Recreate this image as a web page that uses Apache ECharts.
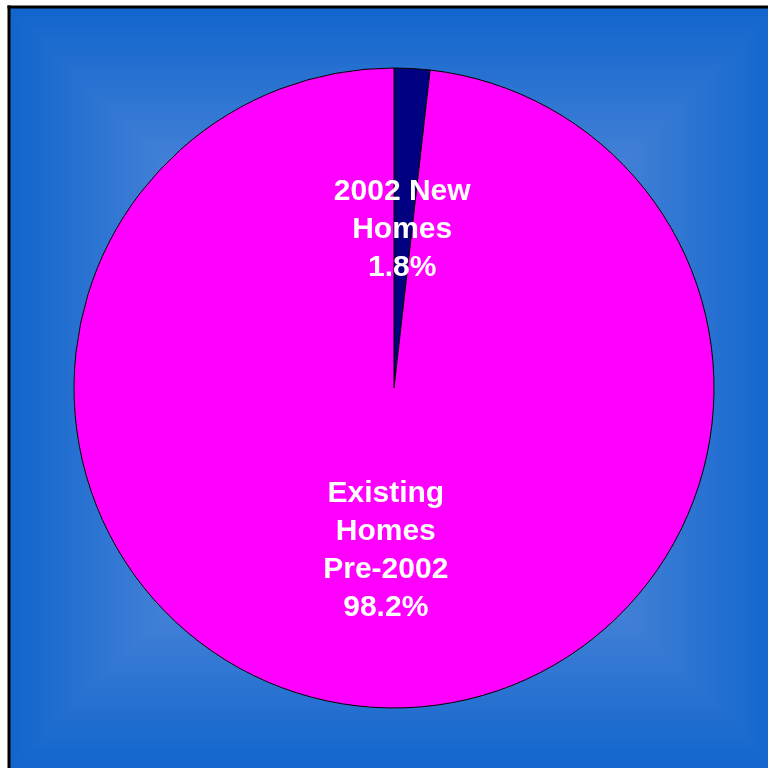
<!DOCTYPE html>
<html>
<head>
<meta charset="utf-8">
<script src="https://cdn.jsdelivr.net/npm/echarts@6/dist/echarts.min.js"></script>
<style>
html,body{margin:0;padding:0;background:#fff;}
#chart{width:768px;height:768px;}
</style>
</head>
<body>
<div id="chart"></div>
<script>
const categories = ['2002 New\nHomes', 'Existing\nHomes\nPre-2002'];
const shares = [1.8, 98.2];
const sliceColors = ['#000080', '#FF00FF'];

const chart = echarts.init(document.getElementById('chart'), null, {renderer: 'canvas'});

const L = 9, T = 7, R = 779, B = 769, CX = 394, CY = 388;
const edge = '#1165cc', mid = '#8aa8e6';
function grad(x1, y1, x2, y2) {
  return new echarts.graphic.LinearGradient(x1, y1, x2, y2, [
    {offset: 0, color: edge}, {offset: 1, color: mid}
  ], true);
}
function tri(points, g) {
  return {type: 'polygon', shape: {points: points}, style: {fill: g, stroke: g, lineWidth: 1.5}};
}
const bg = [
  tri([[L, T], [R, T], [CX, CY]], grad(0, T, 0, CY)),
  tri([[L, B], [R, B], [CX, CY]], grad(0, B, 0, CY)),
  tri([[L, T], [L, B], [CX, CY]], grad(L, 0, CX, 0)),
  tri([[R, T], [R, B], [CX, CY]], grad(R, 0, CX, 0)),
  {type: 'line', shape: {x1: L, y1: T - 1.5, x2: L, y2: 768}, style: {stroke: '#000', lineWidth: 3}},
  {type: 'line', shape: {x1: L - 1.5, y1: T, x2: 768, y2: T}, style: {stroke: '#000', lineWidth: 3}}
].map(e => Object.assign(e, {z: -10, silent: true}));

chart.setOption({
  animation: false,
  graphic: bg,
  series: [{
    type: 'pie',
    center: [CX, CY],
    radius: [0, 320],
    startAngle: 90,
    clockwise: true,
    avoidLabelOverlap: false,
    emphasis: {disabled: true},
    itemStyle: {borderColor: '#000', borderWidth: 1},
    label: {
      show: true,
      position: 'inside',
      color: '#fff',
      fontFamily: 'Liberation Sans, Arial, sans-serif',
      fontWeight: 'bold',
      fontSize: 30,
      lineHeight: 38,
      align: 'center',
      formatter: p => p.name + '\n' + p.value.toFixed(1) + '%'
    },
    labelLine: {show: false},
    data: categories.map((c, i) => ({
      name: c, value: shares[i],
      itemStyle: {color: sliceColors[i]},
      label: {offset: i === 0 ? [-1, 4] : [1, 0]}
    }))
  }]
});
</script>
</body>
</html>
